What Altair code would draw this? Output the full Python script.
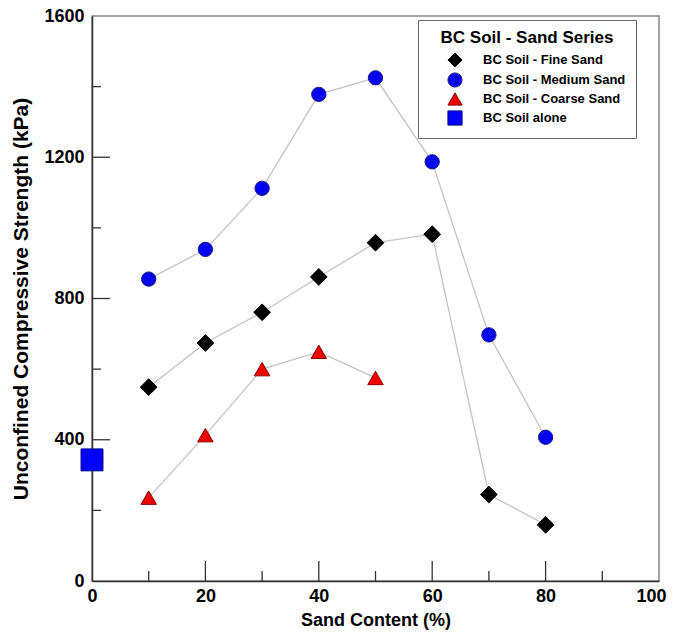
import altair as alt
import pandas as pd

# ---- data ----
sand = [10, 20, 30, 40, 50, 60, 70, 80]
fine = [549, 674, 761, 861, 958, 982, 245, 159]
medium = [855, 939, 1112, 1378, 1425, 1187, 697, 407]
coarse_x = [10, 20, 30, 40, 50]
coarse = [236, 413, 600, 649, 575]
alone_x = [0]
alone = [343]

series_names = ["BC Soil - Fine Sand", "BC Soil - Medium Sand",
                "BC Soil - Coarse Sand", "BC Soil alone"]
fills = ["#000000", "#0000ee", "#ee0000", "#0000ff"]
strokes = ["#000000", "#1a1a8c", "#8b0000", "#00008b"]
shapes = ["diamond", "circle", "triangle-up", "square"]
marker_sizes = [280, 205, 240, 480]

x_major = [20, 40, 60, 80]
x_minor = [10, 30, 50, 70, 90]
y_major = [400, 800, 1200]
y_minor = [200, 600, 1000, 1400]

rows = []
for x, v in zip(sand, fine):
    rows.append({"series": series_names[0], "sand": x, "ucs": v})
for x, v in zip(sand, medium):
    rows.append({"series": series_names[1], "sand": x, "ucs": v})
for x, v in zip(coarse_x, coarse):
    rows.append({"series": series_names[2], "sand": x, "ucs": v})
for x, v in zip(alone_x, alone):
    rows.append({"series": series_names[3], "sand": x, "ucs": v})
df = pd.DataFrame(rows)

W, H = 567, 565
FONT = "Liberation Sans"

xscale = alt.Scale(domain=[0, 100], nice=False, zero=False)
yscale = alt.Scale(domain=[0, 1600], nice=False)

xenc = alt.X("sand:Q", scale=xscale,
             axis=alt.Axis(title="Sand Content (%)", values=[0, 20, 40, 60, 80, 100],
                           format="d", tickSize=0, labelPadding=6, titlePadding=6,
                           labelFontSize=18, titleFontSize=18, labelFont=FONT,
                           titleFont=FONT, labelFontWeight="bold", titleFontWeight="bold",
                           labelColor="#000", titleColor="#000", grid=False,
                           labelOffset={"condition": {"test": "datum.value == 100", "value": -8}, "value": 0},
                           domainColor="#333", domainWidth=1.5, labelFlush=False))
yenc = alt.Y("ucs:Q", scale=yscale,
             axis=alt.Axis(title="Unconfined Compressive Strength (kPa)",
                           values=[0, 400, 800, 1200, 1600], format="d",
                           tickSize=0, labelPadding=8, titlePadding=12,
                           labelFontSize=18, titleFontSize=21, labelFont=FONT,
                           titleFont=FONT, labelFontWeight="bold", titleFontWeight="bold",
                           labelColor="#000", titleColor="#000", grid=False,
                           domainColor="#333", domainWidth=1.5, labelFlush=False))

base = alt.Chart(df)

lines = base.transform_filter(
    alt.datum.series != series_names[3]
).mark_line(color="#c4c4c4", strokeWidth=1.3).encode(
    x=xenc, y=yenc, detail="series:N"
)

legend = alt.Legend(title="BC Soil - Sand Series", orient="none", legendX=326, legendY=4)

enc = dict(
    x=alt.X("sand:Q", scale=xscale),
    y=alt.Y("ucs:Q", scale=yscale),
    fill=alt.Fill("series:N", scale=alt.Scale(domain=series_names, range=fills), legend=legend),
    shape=alt.Shape("series:N", scale=alt.Scale(domain=series_names, range=shapes), legend=legend),
    stroke=alt.Stroke("series:N", scale=alt.Scale(domain=series_names, range=strokes), legend=legend),
)

point_layers = []
for name, sz in zip(series_names, marker_sizes):
    point_layers.append(
        base.transform_filter(alt.datum.series == name)
        .mark_point(filled=True, opacity=1, strokeWidth=1, size=sz)
        .encode(**enc)
    )

xmaj = alt.Chart(pd.DataFrame({"v": x_major})).mark_rule(color="#333", strokeWidth=1.3).encode(
    x=alt.X("v:Q", scale=xscale), y=alt.value(H), y2=alt.value(H - 20))
xmin = alt.Chart(pd.DataFrame({"v": x_minor})).mark_rule(color="#333", strokeWidth=1.3).encode(
    x=alt.X("v:Q", scale=xscale), y=alt.value(H), y2=alt.value(H - 10))
ymaj = alt.Chart(pd.DataFrame({"v": y_major})).mark_rule(color="#333", strokeWidth=1.3).encode(
    y=alt.Y("v:Q", scale=yscale), x=alt.value(0), x2=alt.value(18))
ymin = alt.Chart(pd.DataFrame({"v": y_minor})).mark_rule(color="#333", strokeWidth=1.3).encode(
    y=alt.Y("v:Q", scale=yscale), x=alt.value(0), x2=alt.value(9))

chart = alt.layer(lines, *point_layers, xmaj, xmin, ymaj, ymin).properties(
    width=W, height=H,
    autosize=alt.AutoSizeParams(type="none"),
    padding={"left": 84, "top": 8, "right": 8, "bottom": 50},
).configure_view(stroke="#888", strokeWidth=1.5).configure_legend(
    titleFont=FONT, titleFontSize=17, titleFontWeight="bold", titleColor="#000",
    titleAnchor="middle", titleAlign="center", titlePadding=5,
    labelFont=FONT, labelFontSize=13, labelFontWeight="bold", labelColor="#000",
    labelOffset=20, symbolOffset=19, symbolSize=200, rowPadding=0,
    strokeColor="#666", padding=10, fillColor="white", symbolStrokeWidth=1,
)

chart.save("out.html", embed_options={"renderer": "svg", "actions": False})
